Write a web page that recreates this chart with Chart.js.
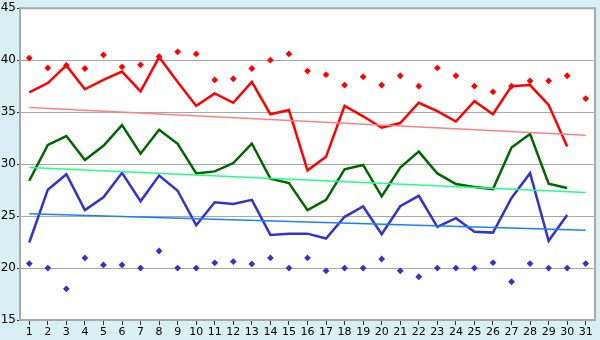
<!DOCTYPE html>
<html>
<head>
<meta charset="utf-8">
<script src="https://cdn.jsdelivr.net/npm/chart.js@4/dist/chart.umd.min.js"></script>
<style>
  html, body { margin: 0; padding: 0; background: #d9eff6; }
  #wrap { width: 600px; height: 340px; }
</style>
</head>
<body>
<div id="wrap"><canvas id="chart" width="600" height="340"></canvas></div>
<script>
const days = ['1','2','3','4','5','6','7','8','9','10','11','12','13','14','15','16','17','18','19','20','21','22','23','24','25','26','27','28','29','30','31'];

const redLine = [36.9, 37.8, 39.5, 37.2, 38.1, 38.9, 37.0, 40.3, 37.9, 35.6, 36.8, 35.9, 37.9, 34.8, 35.2, 29.4, 30.7, 35.6, 34.6, 33.5, 33.95, 35.9, 35.1, 34.1, 36.05, 34.8, 37.5, 37.6, 35.7, 31.7, null];
const redDots = [40.2, 39.25, 39.5, 39.2, 40.5, 39.35, 39.55, 40.35, 40.8, 40.6, 38.1, 38.2, 39.2, 40.0, 40.6, 38.95, 38.6, 37.6, 38.4, 37.6, 38.5, 37.5, 39.25, 38.5, 37.5, 36.95, 37.5, 38.0, 38.0, 38.5, 36.3];
const redTrend = [35.45, 32.78];

const greenLine = [28.4, 31.85, 32.7, 30.4, 31.76, 33.75, 31.0, 33.3, 31.95, 29.1, 29.3, 30.1, 31.98, 28.6, 28.17, 25.57, 26.56, 29.5, 29.92, 26.9, 29.67, 31.2, 29.1, 28.08, 27.8, 27.6, 31.6, 32.9, 28.11, 27.7, null];
const greenTrend = [29.67, 27.26];

const blueLine = [22.46, 27.54, 29.03, 25.57, 26.81, 29.16, 26.43, 28.9, 27.44, 24.11, 26.33, 26.17, 26.56, 23.19, 23.31, 23.31, 22.84, 24.93, 25.92, 23.25, 25.95, 26.95, 23.97, 24.8, 23.5, 23.41, 26.74, 29.13, 22.62, 25.1, null];
const blueDots = [20.43, 20.0, 18.0, 20.97, 20.3, 20.3, 20.0, 21.64, 20.0, 20.0, 20.5, 20.62, 20.4, 20.97, 20.0, 20.97, 19.73, 20.0, 20.0, 20.87, 19.73, 19.16, 20.0, 20.0, 20.0, 20.52, 18.68, 20.43, 20.0, 20.0, 20.43];
const blueTrend = [25.22, 23.64];

const yTicks = [15, 20, 25, 30, 35, 40, 45];

// trend lines only have endpoints, the rest is spanned
function trendData(ends) {
  return days.map((d, i) => i === 0 ? ends[0] : (i === days.length - 1 ? ends[1] : null));
}

const plotBg = {
  id: 'plotBg',
  beforeDraw(chart) {
    const { ctx, chartArea: a } = chart;
    ctx.save();
    ctx.fillStyle = '#d9eff6';
    ctx.fillRect(0, 0, chart.width, chart.height);
    ctx.fillStyle = '#ffffff';
    ctx.fillRect(a.left, a.top, a.right - a.left, a.bottom - a.top);
    ctx.restore();
  },
  afterDatasetsDraw(chart) {
    const { ctx, chartArea: a } = chart;
    ctx.save();
    ctx.strokeStyle = '#a8a8a8';
    ctx.lineWidth = 2;
    ctx.beginPath();
    ctx.moveTo(a.left, a.top);
    ctx.lineTo(a.right, a.top);
    ctx.lineTo(a.right, a.bottom);
    ctx.stroke();
    ctx.restore();
  }
};

const lineDs = (data, color) => ({
  type: 'line', data, borderColor: color, backgroundColor: color,
  borderWidth: 2.5, pointRadius: 0, tension: 0, spanGaps: false
});
const trendDs = (ends, color) => ({
  type: 'line', data: trendData(ends), borderColor: color, backgroundColor: color,
  borderWidth: 1.5, pointRadius: 0, spanGaps: true
});
const dotDs = (data, color) => ({
  type: 'line', data, showLine: false, borderColor: color, backgroundColor: color,
  pointStyle: 'rectRot', pointRadius: 3.4, pointBorderWidth: 0
});

const ctx = document.getElementById('chart').getContext('2d');
new Chart(ctx, {
  type: 'line',
  data: {
    labels: days,
    datasets: [
      trendDs(redTrend, '#ff8080'),
      trendDs(greenTrend, '#22ff88'),
      trendDs(blueTrend, '#1a7fff'),
      lineDs(redLine, '#ff0000'),
      lineDs(greenLine, '#006600'),
      lineDs(blueLine, '#3333cc'),
      dotDs(redDots, '#ff0000'),
      dotDs(blueDots, '#3333cc')
    ]
  },
  options: {
    responsive: false,
    animation: false,
    layout: { padding: { top: 5, right: 5, left: 0, bottom: 0 } },
    plugins: { legend: { display: false }, tooltip: { enabled: false } },
    scales: {
      x: {
        offset: true,
        grid: { offset: false, drawOnChartArea: false, drawTicks: true, tickLength: 5, color: '#333333' },
        border: { color: '#a8a8a8', width: 2 },
        ticks: { color: '#000', padding: 1, autoSkip: false, maxRotation: 0, font: { family: 'DejaVu Sans', size: 11 } },
        afterFit: s => { s.height = 20; }
      },
      y: {
        min: 15, max: 45,
        afterBuildTicks: s => { s.ticks = yTicks.map(v => ({ value: v })); },
        grid: { color: '#a8a8a8', lineWidth: 1, tickLength: 3, tickColor: '#333333' },
        border: { color: '#a8a8a8', width: 2 },
        ticks: { color: '#000', padding: 1, font: { family: 'DejaVu Sans', size: 12 } },
        afterFit: s => { s.width = 20; }
      }
    }
  },
  plugins: [plotBg]
});
</script>
</body>
</html>
